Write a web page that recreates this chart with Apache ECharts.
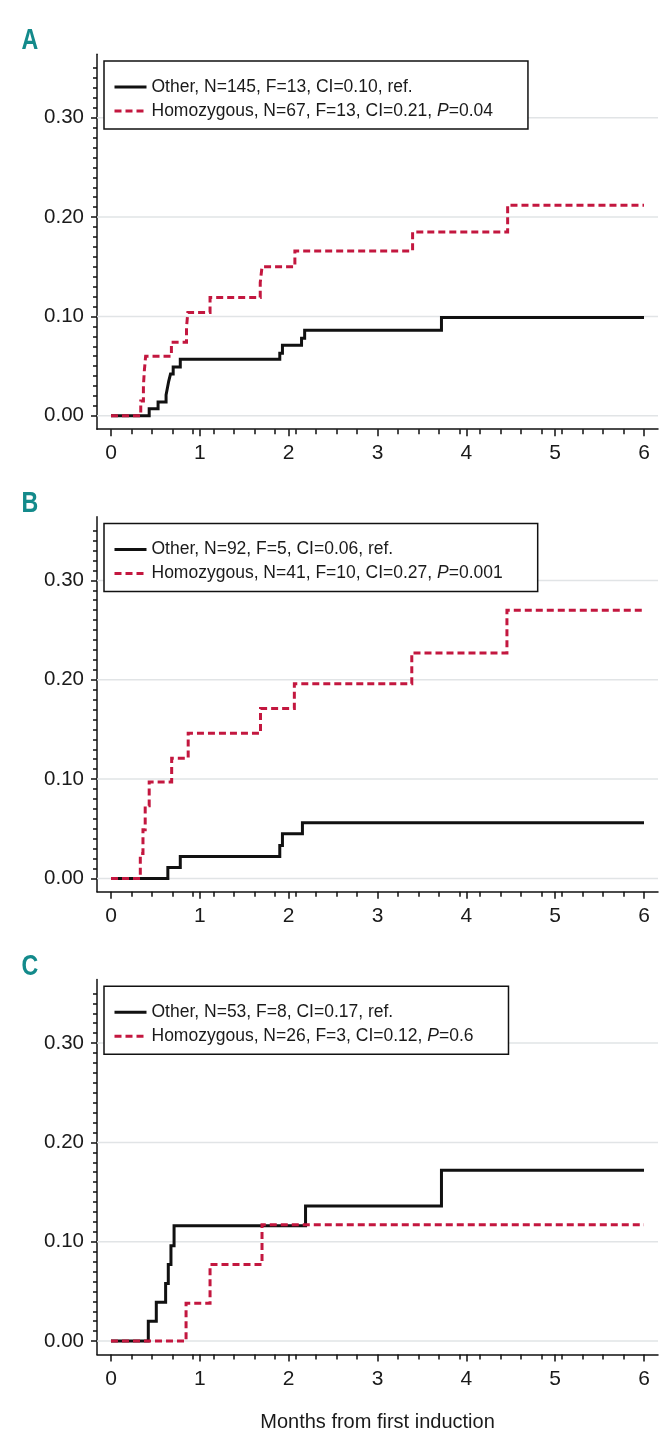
<!DOCTYPE html>
<html>
<head>
<meta charset="utf-8">
<script src="https://cdn.jsdelivr.net/npm/echarts@6/dist/echarts.min.js"></script>
<style>
html,body{margin:0;padding:0;background:#fff;}
#chart{width:672px;height:1444px;}
</style>
</head>
<body>
<div id="chart"></div>
<script>
// ---------- data ----------
const panelLabels = ['A', 'B', 'C'];
const otherNames = ['Other, N=145, F=13, CI=0.10, ref.', 'Other, N=92, F=5, CI=0.06, ref.', 'Other, N=53, F=8, CI=0.17, ref.'];
const homoNames = ['Homozygous, N=67, F=13, CI=0.21, P=0.04', 'Homozygous, N=41, F=10, CI=0.27, P=0.001', 'Homozygous, N=26, F=3, CI=0.12, P=0.6'];

// Panel A
const timeOtherA = [0, 0.43, 0.53, 0.62, 0.635, 0.65, 0.67, 0.70, 0.78, 1.90, 1.93, 2.145, 2.18, 3.72, 6];
const cifOtherA  = [0, 0.007, 0.014, 0.021, 0.028, 0.035, 0.042, 0.049, 0.057, 0.063, 0.071, 0.078, 0.086, 0.099, 0.099];
const timeHomoA  = [0, 0.335, 0.365, 0.375, 0.39, 0.68, 0.85, 0.865, 1.115, 1.68, 1.70, 2.07, 3.395, 4.465, 6];
const cifHomoA   = [0, 0.015, 0.030, 0.045, 0.060, 0.074, 0.089, 0.104, 0.119, 0.134, 0.150, 0.166, 0.185, 0.212, 0.212];
// Panel B
const timeOtherB = [0, 0.64, 0.78, 1.90, 1.93, 2.155, 6];
const cifOtherB  = [0, 0.011, 0.022, 0.033, 0.045, 0.056, 0.056];
const timeHomoB  = [0, 0.33, 0.36, 0.385, 0.43, 0.683, 0.869, 1.683, 2.064, 3.386, 4.457, 6];
const cifHomoB   = [0, 0.025, 0.049, 0.073, 0.097, 0.121, 0.146, 0.171, 0.196, 0.227, 0.270, 0.270];
// Panel C
const timeOtherC = [0, 0.42, 0.51, 0.615, 0.645, 0.675, 0.71, 2.19, 3.72, 6];
const cifOtherC  = [0, 0.020, 0.039, 0.058, 0.077, 0.096, 0.116, 0.136, 0.172, 0.172];
const timeHomoC  = [0, 0.845, 1.115, 1.70, 6];
const cifHomoC   = [0, 0.038, 0.077, 0.117, 0.117];

const xMajorTicks = [0, 1, 2, 3, 4, 5, 6];
const xTickLabels = ['0', '1', '2', '3', '4', '5', '6'];
const weeksPerSixMonths = 26;
const yMajorTicks = [0, 0.1, 0.2, 0.3];
const yTickLabels = ['0.00', '0.10', '0.20', '0.30'];
const yMinorStep = 0.01;
const yMinorCount = 35;
const xAxisTitle = 'Months from first induction';

// ---------- layout / style ----------
const FONT = '"Liberation Sans", Arial, sans-serif';
const RED = '#c3173f';
const BLACK = '#111111';
const TEAL = '#138a8b';
const GRIDLINE = '#e1e4e6';
const gridTops = [54.2, 516.8, 979.5];
const titleCenters = [41, 504, 967];
const GRID_LEFT = 97, GRID_W = 561, GRID_H = 375;
const X_MIN = -0.1575, X_MAX = 6.1575, Y_MIN = -0.0135, Y_MAX = 0.364;

const weekTicks = [];
for (let w = 0; w <= weeksPerSixMonths; w++) weekTicks.push(w * 6 / weeksPerSixMonths);
const yMinorTicks = [];
for (let k = 0; k <= yMinorCount; k++) yMinorTicks.push(+(k * yMinorStep).toFixed(2));

const panels = [
  [timeOtherA, cifOtherA, timeHomoA, cifHomoA],
  [timeOtherB, cifOtherB, timeHomoB, cifHomoB],
  [timeOtherC, cifOtherC, timeHomoC, cifHomoC]
];
const pairs = (t, v) => t.map((x, i) => [x, v[i]]);

const grid = [], xAxis = [], yAxis = [], series = [], legend = [], graphic = [];
const axisLineStyle = { color: BLACK, width: 1.5 };

panels.forEach((p, i) => {
  grid.push({ left: GRID_LEFT, top: gridTops[i], width: GRID_W, height: GRID_H });
  // major x axis
  xAxis.push({
    gridIndex: i, type: 'value', min: X_MIN, max: X_MAX,
    axisLine: { show: true, onZero: false, lineStyle: axisLineStyle },
    axisTick: { show: true, customValues: xMajorTicks, length: 7, lineStyle: axisLineStyle },
    axisLabel: { show: true, customValues: xMajorTicks, formatter: v => xTickLabels[xMajorTicks.indexOf(Math.round(v))],
      fontSize: 21, fontFamily: FONT, color: '#1a1a1a', margin: 14 },
    splitLine: { show: false },
    name: i === 2 ? xAxisTitle : '', nameLocation: 'middle', nameGap: 58,
    nameTextStyle: { fontSize: 20, fontFamily: FONT, color: '#1a1a1a' }
  });
  // minor (weekly) x ticks
  xAxis.push({
    gridIndex: i, type: 'value', min: X_MIN, max: X_MAX, position: 'bottom',
    axisLine: { show: false, onZero: false },
    axisTick: { show: true, customValues: weekTicks, length: 5, lineStyle: axisLineStyle },
    axisLabel: { show: false }, splitLine: { show: false }
  });
  // major y axis
  yAxis.push({
    gridIndex: i, type: 'value', min: Y_MIN, max: Y_MAX, position: 'left',
    axisLine: { show: true, onZero: false, lineStyle: axisLineStyle },
    axisTick: { show: true, customValues: yMajorTicks, length: 6, lineStyle: axisLineStyle },
    axisLabel: { show: true, customValues: yMajorTicks,
      formatter: v => yTickLabels[yMajorTicks.findIndex(t => Math.abs(t - v) < 1e-6)],
      fontSize: 20.5, fontFamily: FONT, color: '#1a1a1a', margin: 13 },
    splitLine: { show: false }
  });
  // minor y ticks
  yAxis.push({
    gridIndex: i, type: 'value', min: Y_MIN, max: Y_MAX, position: 'left', offset: 0,
    axisLine: { show: false, onZero: false },
    axisTick: { show: true, customValues: yMinorTicks, length: 4, lineStyle: axisLineStyle },
    axisLabel: { show: false }, splitLine: { show: false }
  });

  // horizontal gridlines (under the curves)
  yMajorTicks.forEach(v => {
    series.push({
      type: 'line', xAxisIndex: 2 * i, yAxisIndex: 2 * i, z: 1, silent: true, symbol: 'none',
      data: [[X_MIN, v], [X_MAX, v]], animation: false,
      lineStyle: { color: GRIDLINE, width: 1.5 }, tooltip: { show: false }
    });
  });
  series.push({
    name: otherNames[i], type: 'line', xAxisIndex: 2 * i, yAxisIndex: 2 * i, step: 'end',
    data: pairs(p[0], p[1]), symbol: 'none', z: 3, animation: false,
    lineStyle: { color: BLACK, width: 3, cap: 'butt', join: 'miter' }, itemStyle: { color: BLACK }
  });
  series.push({
    name: homoNames[i], type: 'line', xAxisIndex: 2 * i, yAxisIndex: 2 * i, step: 'end',
    data: pairs(p[2], p[3]), symbol: 'none', z: 4, animation: false,
    lineStyle: { color: RED, width: 3, type: [7, 4], cap: 'butt', join: 'miter' }, itemStyle: { color: RED }
  });

  legend.push({
    data: [otherNames[i], homoNames[i]], orient: 'vertical', left: 104, top: gridTops[i] + 6.8,
    padding: [16, 35, 8, 9], itemGap: 4, itemWidth: 32, itemHeight: 14,
    backgroundColor: '#fff', borderColor: BLACK, borderWidth: 1.5, borderRadius: 0,
    selectedMode: false,
    lineStyle: { width: 3 },
    itemStyle: { color: 'rgba(0,0,0,0)', borderColor: 'rgba(0,0,0,0)', borderWidth: 0 },
    formatter: name => name.replace('P=', '{i|P}='),
    textStyle: { fontSize: 17.5, fontFamily: FONT, color: '#1a1a1a', lineHeight: 20,
      rich: { i: { fontStyle: 'italic', fontSize: 17.5, fontFamily: FONT, color: '#1a1a1a', lineHeight: 20 } } }
  });

  graphic.push({
    type: 'text', x: 30, y: titleCenters[i], scaleX: 0.8,
    style: { text: panelLabels[i], fill: TEAL, font: 'bold 29px ' + FONT, align: 'center', verticalAlign: 'middle' }
  });
});

const chart = echarts.init(document.getElementById('chart'), null, { renderer: 'canvas' });
chart.setOption({ animation: false, backgroundColor: '#fff', grid, xAxis, yAxis, series, legend, graphic });
</script>
</body>
</html>
